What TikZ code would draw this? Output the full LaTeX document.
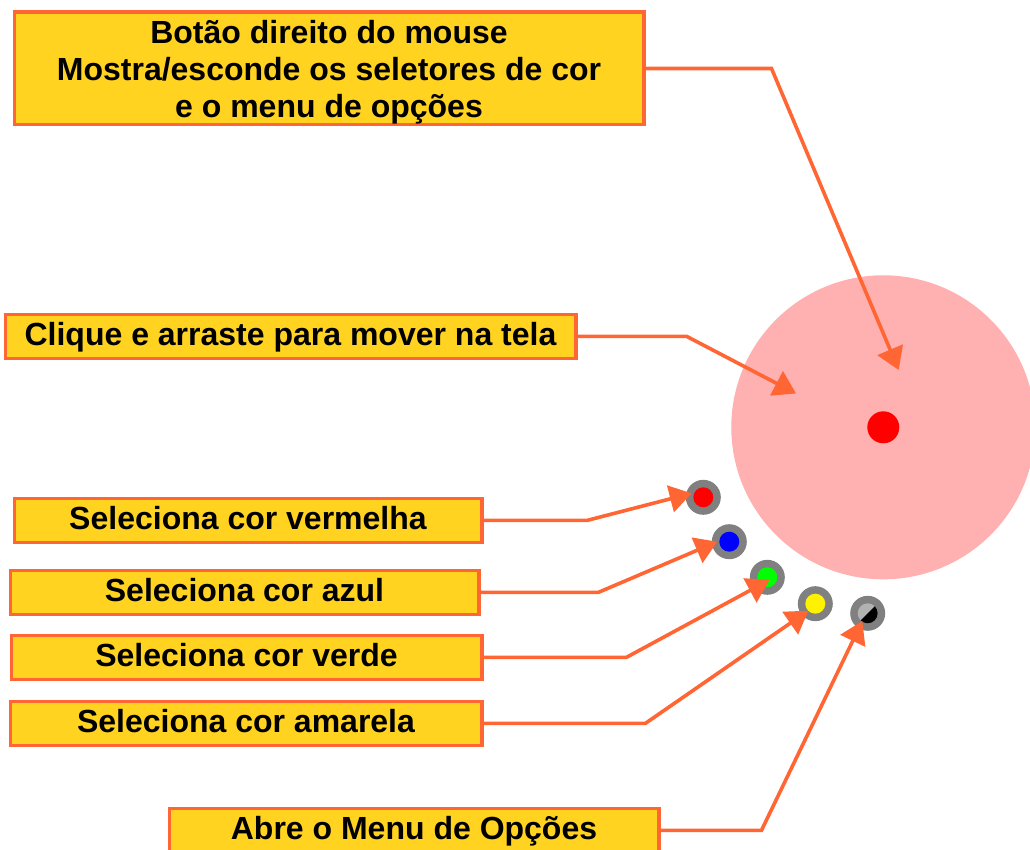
\documentclass[tikz,border=0pt]{standalone}
\usepackage{fontspec}
\setmainfont{Liberation Sans}
\usetikzlibrary{arrows.meta}
\definecolor{boxfill}{HTML}{FFD320}
\definecolor{boxline}{HTML}{FF6633}
\definecolor{ringgray}{HTML}{808080}
\definecolor{mainpink}{HTML}{FFB0B0}
\tikzstyle{label}=[
	rectangle,
	anchor=north west,
	draw=boxline,
	line width=3.6pt,
	fill=boxfill,
	align=center,
	inner sep=0pt,
	font=\fontsize{32}{37}\selectfont\bfseries
]
\tikzstyle{oneline}=[
	label,
	minimum height=44pt,
	text height=23pt,
	text depth=5pt
]
\tikzstyle{ring}=[
	circle,
	minimum size=35pt,
	inner sep=0pt,
	fill=ringgray
]
\tikzstyle{dot}=[
	circle,
	minimum size=20pt,
	inner sep=0pt
]
\tikzstyle{pointer}=[
	draw=boxline,
	line width=3.6pt,
	-{Triangle[length=22pt,width=27pt]}
]

\begin{document}
\begin{tikzpicture}[x=1pt,y=-1pt]
\useasboundingbox (0,0) rectangle (1030,850);

% Main circle
\node[circle,minimum size=304pt,fill=mainpink,inner sep=0pt] (main) at (883.3,427.3){};
\node[circle,minimum size=32pt,fill=red,inner sep=0pt] (centre) at (883.3,427.3){};

% Colour selectors
\node[ring] (rred) at (703.3,497.3){};
\node[dot,fill=red] (dred) at (703.3,497.3){};
\node[ring] (rblue) at (729.3,541.7){};
\node[dot,fill=blue] (dblue) at (729.3,541.7){};
\node[ring] (rgreen) at (767.3,577.3){};
\node[dot,fill=green] (dgreen) at (767.3,577.3){};
\node[ring] (ryellow) at (815.3,603.7){};
\node[dot,fill=yellow] (dyellow) at (815.3,603.7){};

% Options selector
\node[ring] (ropt) at (867.7,613.3){};
\node[dot,fill=black!30] (dopt) at (867.7,613.3){};
\begin{scope}
\clip (dopt.center) circle (10pt);
\fill[black] (877.7,603.3) -- (857.7,623.3) -- (887.7,623.3) -- cycle;
\end{scope}

% Labels
\node[label,minimum width=629.4pt,minimum height=112.4pt,text height=105pt] (bt) at (12.5,10.5){Botão direito do mouse\\Mostra/esconde os seletores de cor\\e o menu de opções};
\node[oneline,minimum width=570.4pt] (drag) at (3.5,312.5){Clique e arraste para mover na tela};
\node[oneline,minimum width=467.4pt] (lred) at (12.5,496.5){Seleciona cor vermelha};
\node[oneline,minimum width=468.4pt] (lblue) at (8.5,568.5){Seleciona cor azul};
\node[oneline,minimum width=470.4pt] (lgreen) at (9.5,633.5){Seleciona cor verde};
\node[oneline,minimum width=471.4pt] (lyellow) at (8.5,699.5){Seleciona cor amarela};
\node[oneline,minimum width=489.4pt] (lopt) at (167.5,806.5){Abre o Menu de Opções};

% Free ends of the pointers
\coordinate (a1) at (898.7,370);
\coordinate (a2) at (796,393.5);
\coordinate (a3) at (691.7,493.3);
\coordinate (a4) at (717.3,541.7);
\coordinate (a5) at (769.3,580);
\coordinate (a6) at (808.3,610.7);
\coordinate (a7) at (862.3,621);

% Pointers
\draw[pointer] (bt.east) -- ++(126,0) -- (a1);
\draw[pointer] (drag.east) -- ++(109,0) -- (a2);
\draw[pointer] (lred.east) -- ++(104,0) -- (a3);
\draw[pointer] (lblue.east) -- ++(118,0) -- (a4);
\draw[pointer] (lgreen.east) -- ++(143,0) -- (a5);
\draw[pointer] (lyellow.east) -- ++(162,0) -- (a6);
\draw[pointer] (lopt.east) -- ++(101,0) -- (a7);

\end{tikzpicture}
\end{document}
